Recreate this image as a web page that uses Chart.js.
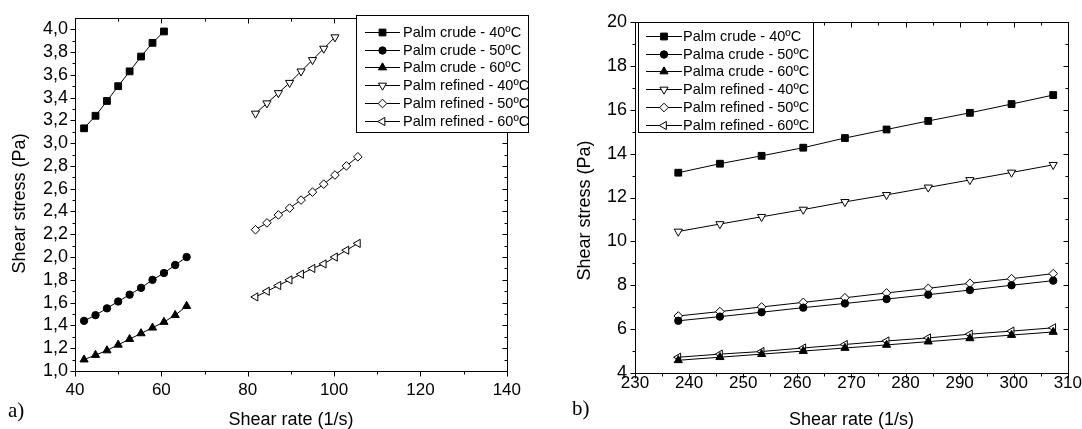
<!DOCTYPE html>
<html lang="en">
<head>
<meta charset="UTF-8">
<title>Shear stress vs shear rate - palm oil</title>
<script src="https://cdn.jsdelivr.net/npm/chart.js"></script>
<style>
  body { margin: 0; background: #fff; }
  #wrap { position: relative; width: 1082px; height: 429px; overflow: hidden; }
  #wrap canvas { position: absolute; top: 0; }
  .tag { position: absolute; font-family: "Liberation Serif", "Times New Roman", serif; font-size: 21px; line-height: 1; }
</style>
</head>
<body>

<div id="wrap">
  <canvas id="chartA" width="530" height="429" style="left:0"></canvas>
  <canvas id="chartB" width="552" height="429" style="left:530px"></canvas>
  <div class="tag" style="left:8px; top:400px">a)</div>
  <div class="tag" style="left:572px; top:398px">b)</div>
</div>

<script>
// ---- a) data ----
const rateCrudeA   = [42.1, 44.75, 47.4, 50.0, 52.65, 55.3, 57.95, 60.6, 63.2, 65.85];
const rateRefinedA = [81.8, 84.45, 87.1, 89.7, 92.35, 95.0, 97.6, 100.2, 102.85, 105.5];
const crude40A   = [3.13, 3.24, 3.37, 3.50, 3.63, 3.76, 3.88, 3.98];
const crude50A   = [1.44, 1.49, 1.55, 1.61, 1.67, 1.73, 1.80, 1.86, 1.93, 2.00];
const crude60A   = [1.10, 1.14, 1.18, 1.23, 1.28, 1.33, 1.38, 1.43, 1.49, 1.57];
const refined40A = [3.26, 3.35, 3.44, 3.53, 3.63, 3.73, 3.83, 3.93];
const refined50A = [2.24, 2.30, 2.37, 2.43, 2.50, 2.57, 2.64, 2.72, 2.80, 2.88];
const refined60A = [1.65, 1.70, 1.75, 1.80, 1.85, 1.90, 1.94, 2.00, 2.06, 2.12];
const labelsA = ["Palm crude - 40ºC", "Palm crude - 50ºC", "Palm crude - 60ºC",
                 "Palm refined - 40ºC", "Palm refined - 50ºC", "Palm refined - 60ºC"];
const xTicksA = [40, 60, 80, 100, 120, 140];
const yTicksA = [1.0, 1.2, 1.4, 1.6, 1.8, 2.0, 2.2, 2.4, 2.6, 2.8, 3.0, 3.2, 3.4, 3.6, 3.8, 4.0];

// ---- b) data ----
const rateB = [238.0, 245.7, 253.4, 261.1, 268.8, 276.5, 284.2, 291.9, 299.6, 307.3];
const crude40B   = [13.13, 13.54, 13.90, 14.27, 14.71, 15.10, 15.49, 15.86, 16.26, 16.67];
const crude50B   = [6.38, 6.57, 6.77, 6.98, 7.17, 7.37, 7.57, 7.78, 8.00, 8.21];
const crude60B   = [4.58, 4.72, 4.86, 5.00, 5.14, 5.28, 5.43, 5.58, 5.73, 5.87];
const refined40B = [10.45, 10.79, 11.12, 11.45, 11.80, 12.12, 12.46, 12.80, 13.14, 13.49];
const refined50B = [6.60, 6.80, 7.01, 7.22, 7.43, 7.65, 7.86, 8.09, 8.30, 8.53];
const refined60B = [4.72, 4.86, 4.98, 5.14, 5.30, 5.46, 5.60, 5.77, 5.91, 6.06];
const labelsB = ["Palm crude - 40ºC", "Palma crude - 50ºC", "Palma crude - 60ºC",
                 "Palm refined - 40ºC", "Palm refined - 50ºC", "Palm refined - 60ºC"];
const xTicksB = [230, 240, 250, 260, 270, 280, 290, 300, 310];
const yTicksB = [4, 6, 8, 10, 12, 14, 16, 18, 20];

const FONT = '"Liberation Sans", Arial, sans-serif';

// marker styles, same order as the labels
const markers = [
    { style: "rect",     rot: 0,   r: 4.8, fill: "#000" },
    { style: "circle",   rot: 0,   r: 3.7, fill: "#000" },
    { style: "triangle", rot: 0,   r: 4.7, fill: "#000" },
    { style: "triangle", rot: 180, r: 4.7, fill: "#fff" },
    { style: "rectRot",  rot: 0,   r: 4.3, fill: "#fff" },
    { style: "triangle", rot: -90, r: 4.7, fill: "#fff" }
];

function series(label, xs, ys, m) {
    return {
        label: label,
        data: ys.map((y, i) => ({ x: xs[i], y: y })),
        showLine: true,
        borderColor: "#000",
        borderWidth: 1,
        pointStyle: m.style,
        pointRotation: m.rot,
        pointRadius: m.r,
        pointHoverRadius: m.r,
        pointBackgroundColor: m.fill,
        pointBorderColor: "#000",
        pointBorderWidth: 1
    };
}

// box around the plot, major + minor ticks (out on bottom/left, in on top/right)
const framePlugin = {
    id: "frame",
    beforeDatasetsDraw(chart) {
        const ctx = chart.ctx, a = chart.chartArea;
        const L = Math.round(a.left) + 0.5, R = Math.round(a.right) + 0.5;
        const T = Math.round(a.top) + 0.5, B = Math.round(a.bottom) + 0.5;
        ctx.save();
        ctx.strokeStyle = "#000";
        ctx.lineWidth = 1;
        ctx.strokeRect(L, T, R - L, B - T);
        ctx.beginPath();
        ["x", "y"].forEach(id => {
            const s = chart.scales[id];
            const major = s.ticks.map(t => t.value);
            const all = [];
            major.forEach((v, i) => {
                all.push([v, 5]);
                if (i < major.length - 1) all.push([(v + major[i + 1]) / 2, 3]);
            });
            all.forEach(([v, len]) => {
                const p = Math.round(s.getPixelForValue(v)) + 0.5;
                if (id === "x") {
                    ctx.moveTo(p, B); ctx.lineTo(p, B + len);
                    ctx.moveTo(p, T); ctx.lineTo(p, T + len);
                } else {
                    ctx.moveTo(L, p); ctx.lineTo(L - len, p);
                    ctx.moveTo(R, p); ctx.lineTo(R - len, p);
                }
            });
        });
        ctx.stroke();
        ctx.restore();
    }
};

// rotated y title, slightly below the centre as in the original
const yTitlePlugin = {
    id: "yTitle",
    afterDraw(chart, args, o) {
        const ctx = chart.ctx, a = chart.chartArea;
        ctx.save();
        ctx.font = o.size + "px " + FONT;
        ctx.fillStyle = "#000";
        ctx.textAlign = "center";
        ctx.textBaseline = "middle";
        ctx.translate(o.x, (a.top + a.bottom) / 2 + o.shift);
        ctx.rotate(-Math.PI / 2);
        ctx.fillText(o.text, 0, 0);
        ctx.restore();
    }
};

// framed legend with line + marker samples
const boxLegendPlugin = {
    id: "boxLegend",
    afterDraw(chart, args, o) {
        const ctx = chart.ctx;
        ctx.save();
        ctx.fillStyle = "#fff";
        ctx.fillRect(o.left, o.top, o.width, o.height);
        ctx.strokeStyle = "#000";
        ctx.lineWidth = 1;
        ctx.strokeRect(o.left + 0.5, o.top + 0.5, o.width, o.height);
        ctx.font = o.size + "px " + FONT;
        ctx.textAlign = "left";
        ctx.textBaseline = "middle";
        chart.data.datasets.forEach((ds, i) => {
            const y = Math.round(o.firstRow + i * o.rowGap) + 0.5;
            ctx.strokeStyle = "#000";
            ctx.beginPath();
            ctx.moveTo(o.lineFrom, y);
            ctx.lineTo(o.lineTo, y);
            ctx.stroke();
            ctx.fillStyle = ds.pointBackgroundColor;
            Chart.helpers.drawPoint(ctx, {
                pointStyle: ds.pointStyle, rotation: ds.pointRotation,
                radius: ds.pointRadius, borderWidth: 1
            }, (o.lineFrom + o.lineTo) / 2, y);
            ctx.fillStyle = "#000";
            ctx.fillText(ds.label, o.textX, y);
        });
        ctx.restore();
    }
};

function makeChart(id, cfg) {
    new Chart(document.getElementById(id), {
        type: "scatter",
        data: { datasets: cfg.datasets },
        plugins: [framePlugin, yTitlePlugin, boxLegendPlugin],
        options: {
            responsive: false,
            animation: false,
            events: [],
            layout: { padding: cfg.padding },
            plugins: {
                legend: { display: false },
                tooltip: { enabled: false },
                yTitle: cfg.yTitle,
                boxLegend: cfg.legend
            },
            scales: {
                x: {
                    type: "linear", min: cfg.xMin, max: cfg.xMax,
                    grid: { display: false, drawTicks: false },
                    border: { display: false },
                    afterBuildTicks: s => { s.ticks = cfg.xTicks.map(v => ({ value: v })); },
                    afterFit: s => { s.height = cfg.xHeight; },
                    ticks: { color: "#000", font: { family: FONT, size: 17 }, padding: cfg.xPad,
                             maxRotation: 0, autoSkip: false },
                    title: {
                        display: true, text: "Shear rate (1/s)", color: "#000",
                        font: { family: FONT, size: 18, lineHeight: 1 }, padding: { top: 0, bottom: 0 }
                    }
                },
                y: {
                    type: "linear", min: cfg.yMin, max: cfg.yMax,
                    grid: { display: false, drawTicks: false },
                    border: { display: false },
                    afterBuildTicks: s => { s.ticks = cfg.yTicks.map(v => ({ value: v })); },
                    afterFit: s => { s.width = cfg.yWidth; },
                    ticks: { color: "#000", font: { family: FONT, size: 18 }, padding: cfg.yPad,
                             autoSkip: false, callback: cfg.yFormat }
                }
            }
        }
    });
}

makeChart("chartA", {
    datasets: [
        series(labelsA[0], rateCrudeA, crude40A, markers[0]),
        series(labelsA[1], rateCrudeA, crude50A, markers[1]),
        series(labelsA[2], rateCrudeA, crude60A, markers[2]),
        series(labelsA[3], rateRefinedA, refined40A, markers[3]),
        series(labelsA[4], rateRefinedA, refined50A, markers[4]),
        series(labelsA[5], rateRefinedA, refined60A, markers[5])
    ],
    padding: { top: 13, right: 21, left: 0, bottom: 0 },
    xMin: 40, xMax: 140, yMin: 1.0, yMax: 4.1,
    xTicks: xTicksA, yTicks: yTicksA,
    xHeight: 58, yWidth: 75, xPad: 9, yPad: 7,
    yFormat: v => v.toFixed(1).replace(".", ","),
    yTitle: { text: "Shear stress (Pa)", x: 20.5, shift: 9, size: 18 },
    legend: { left: 356, top: 15, width: 172, height: 117, size: 14.5,
              firstRow: 31.7, rowGap: 17.8, lineFrom: 365, lineTo: 400, textX: 403 }
});

makeChart("chartB", {
    datasets: [
        series(labelsB[0], rateB, crude40B, markers[0]),
        series(labelsB[1], rateB, crude50B, markers[1]),
        series(labelsB[2], rateB, crude60B, markers[2]),
        series(labelsB[3], rateB, refined40B, markers[3]),
        series(labelsB[4], rateB, refined50B, markers[4]),
        series(labelsB[5], rateB, refined60B, markers[5])
    ],
    padding: { top: 22, right: 13, left: 0, bottom: 0 },
    xMin: 230, xMax: 310, yMin: 4, yMax: 20,
    xTicks: xTicksB, yTicks: yTicksB,
    xHeight: 56, yWidth: 105, xPad: 0, yPad: 8,
    yFormat: v => String(v),
    yTitle: { text: "Shear stress (Pa)", x: 55.5, shift: 13, size: 18 },
    legend: { left: 108, top: 22, width: 175, height: 110, size: 14.5,
              firstRow: 36, rowGap: 17.7, lineFrom: 116, lineTo: 152, textX: 153 }
});
</script>

</body>
</html>
